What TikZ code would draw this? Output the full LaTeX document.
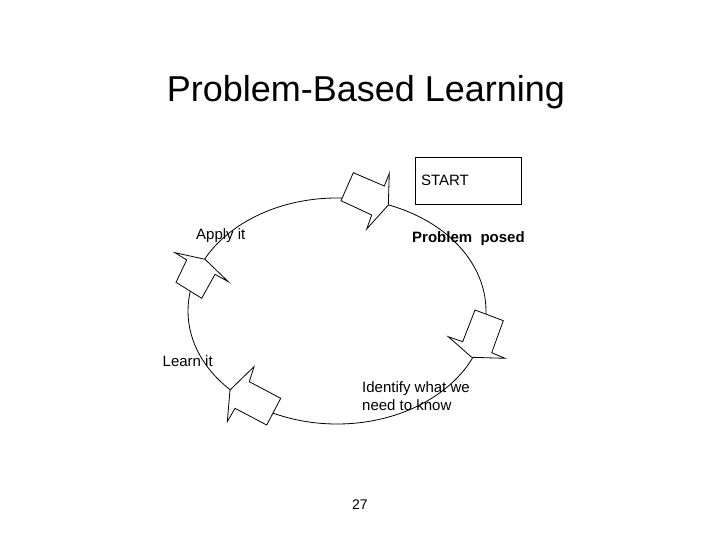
\documentclass[tikz,border=0pt]{standalone}
\usepackage{fontspec}
\setmainfont{Liberation Sans}
\usepackage{tikz}

\begin{document}
\begin{tikzpicture}[x=1pt,y=-1pt,
    lbl/.style={inner sep=0pt,anchor=base west,font=\fontsize{15}{18}\selectfont},
    blockarrow/.style={draw,fill=white,line width=0.8pt,line join=miter}]
    \useasboundingbox (0,0) rectangle (720,540);
    \node[anchor=base,inner sep=0pt,font=\fontsize{36}{40}\selectfont] (title) at (366,102) {Problem-Based Learning};
    \node[draw,line width=0.8pt,minimum width=106pt,minimum height=47pt,inner xsep=6pt,
          text width=94pt,align=left,font=\fontsize{15}{18}\selectfont] (start) at (468,180.5) {START};
    % cycle
    \draw[line width=0.8pt] (337,311) ellipse [x radius=149, y radius=113];
    % arrows along the cycle
    \draw[blockarrow] (353.3,172.7) -- (384.3,186) -- (389.3,173.3) -- (388.3,205)
        -- (366.7,229) -- (371.7,215) -- (341,200.7) -- cycle;
    \draw[blockarrow] (475,310) -- (503.3,320.7) -- (491.7,352.7) -- (505,358.3)
        -- (471.7,357.3) -- (448.3,336.7) -- (462.7,341.7) -- cycle;
    \draw[blockarrow] (230,390) -- (254,366.7) -- (249.3,381.7) -- (280.7,398.3)
        -- (266.7,425) -- (235,408.3) -- (227.3,421.7) -- cycle;
    \draw[blockarrow] (175,252.7) -- (205,259.3) -- (228.3,281.7) -- (215,274.3)
        -- (201.7,298.3) -- (176,282.3) -- (186.7,260) -- cycle;
    % stages
    \node[lbl,font=\fontsize{15}{18}\selectfont\bfseries] (posed) at (412,242) {Problem\ \ posed};
    \node[lbl] (apply) at (196,240) {Apply it};
    \node[lbl] (learn) at (162.5,366) {Learn it};
    \node[lbl] (ident) at (362,392) {Identify what we};
    \node[lbl] (ident2) at (362,410) {need to know};
    \node[lbl,font=\fontsize{14}{16}\selectfont] (page) at (352,509) {27};
\end{tikzpicture}
\end{document}
